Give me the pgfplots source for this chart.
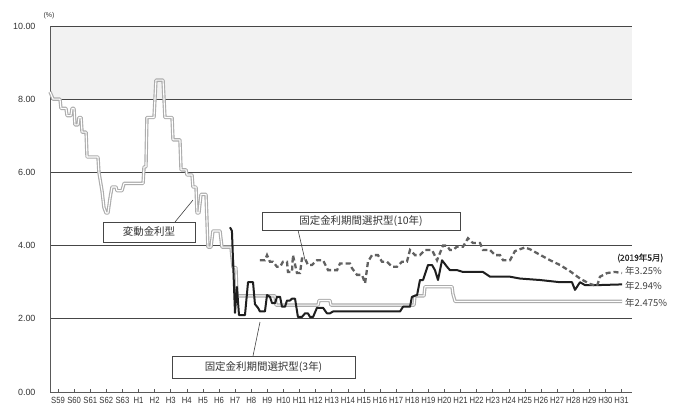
\documentclass[border=0pt]{standalone}
\usepackage{pgfplots}
\pgfplotsset{compat=1.18}
\usepackage{pgfplotstable}
\usepackage{fontspec}
\setmainfont{Liberation Sans}
\newfontfamily\jp{Noto Sans CJK JP}
\newfontfamily\jpb[FakeBold=1.2]{Noto Sans CJK JP}

\pgfplotstableread{
x y
1984.00 8.20
1984.19 8.00
1984.62 8.00
1984.68 7.75
1984.99 7.75
1985.06 7.55
1985.30 7.55
1985.37 7.75
1985.49 7.75
1985.55 7.30
1985.74 7.30
1985.80 7.50
1985.93 7.50
1985.99 7.10
1986.24 7.10
1986.30 6.42
1986.98 6.42
1987.04 6.00
1987.23 5.50
1987.35 5.04
1987.48 4.89
1987.60 4.89
1987.73 5.30
1987.85 5.60
1988.10 5.60
1988.16 5.50
1988.47 5.50
1988.60 5.70
1989.78 5.70
1989.84 6.15
1989.96 6.15
1990.02 7.50
1990.46 7.50
1990.58 8.52
1991.02 8.52
1991.14 7.50
1991.58 7.50
1991.64 6.89
1992.07 6.89
1992.14 6.07
1992.45 6.07
1992.51 5.93
1992.82 5.93
1992.88 5.60
1993.07 5.60
1993.13 4.89
1993.25 4.89
1993.38 5.40
1993.69 5.40
1993.81 3.96
1994.00 3.96
1994.12 4.40
1994.56 4.40
1994.68 3.96
1995.24 3.96
1995.37 3.40
1995.55 3.40
1995.61 2.625
1997.98 2.625
1998.04 2.375
2000.65 2.375
2000.71 2.50
2001.39 2.50
2001.45 2.375
2006.61 2.375
2006.67 2.625
2007.23 2.625
2007.29 2.875
2008.97 2.875
2009.03 2.675
2009.16 2.475
2019.53 2.475
}\variable

\pgfplotstableread{
x y
1995.18 4.50
1995.30 4.40
1995.43 2.87
1995.49 2.16
1995.61 2.87
1995.74 2.10
1996.11 2.10
1996.30 3.00
1996.61 3.00
1996.73 2.40
1996.92 2.30
1997.04 2.20
1997.35 2.20
1997.48 2.65
1997.66 2.60
1997.79 2.43
1997.98 2.43
1998.10 2.60
1998.29 2.60
1998.41 2.33
1998.60 2.33
1998.72 2.50
1998.91 2.50
1999.03 2.55
1999.22 2.55
1999.40 2.05
1999.65 2.05
1999.84 2.15
2000.02 2.15
2000.15 2.05
2000.34 2.05
2000.58 2.30
2000.96 2.30
2001.20 2.15
2001.39 2.15
2001.58 2.20
2005.74 2.20
2005.93 2.33
2006.36 2.33
2006.48 2.60
2006.80 2.65
2006.98 3.06
2007.17 3.06
2007.48 3.47
2007.73 3.47
2007.91 3.33
2008.10 3.06
2008.35 3.60
2008.66 3.42
2008.84 3.33
2009.28 3.33
2009.65 3.28
2010.89 3.28
2011.33 3.15
2012.57 3.15
2013.19 3.10
2014.43 3.06
2015.68 3.00
2016.42 3.00
2016.61 2.79
2016.92 3.00
2017.23 2.92
2017.98 2.92
2019.53 2.94
}\threeyr

\pgfplotstableread{
x y
1997.04 3.60
1997.35 3.60
1997.48 3.74
1997.66 3.56
1997.85 3.56
1998.10 3.42
1998.29 3.42
1998.47 3.56
1998.72 3.56
1998.78 3.28
1999.03 3.28
1999.09 3.74
1999.34 3.25
1999.53 3.25
1999.65 3.65
1999.84 3.65
2000.02 3.47
2000.27 3.47
2000.58 3.60
2000.96 3.60
2001.27 3.33
2001.83 3.33
2002.01 3.51
2002.63 3.51
2002.76 3.38
2003.07 3.20
2003.38 3.20
2003.57 2.97
2003.75 3.56
2004.00 3.74
2004.37 3.74
2004.62 3.56
2004.93 3.56
2005.24 3.42
2005.55 3.42
2005.86 3.56
2006.17 3.56
2006.36 3.88
2006.67 3.74
2006.98 3.74
2007.29 3.88
2007.73 3.88
2008.04 3.60
2008.41 4.00
2008.66 4.00
2008.84 3.88
2009.03 3.88
2009.28 3.97
2009.65 3.97
2009.96 4.20
2010.27 4.07
2010.71 4.07
2010.89 3.88
2011.33 3.88
2011.64 3.74
2011.95 3.74
2012.14 3.60
2012.57 3.60
2012.88 3.85
2013.50 3.95
2013.81 3.90
2014.43 3.75
2015.06 3.60
2015.68 3.47
2016.30 3.30
2016.92 3.10
2017.54 2.95
2017.98 2.90
2018.16 3.15
2018.60 3.25
2019.09 3.28
2019.53 3.25
}\tenyr

\begin{document}
\begin{tikzpicture}[x=1bp,y=1bp]
% light band between 8 and 10
\fill[gray!10] (50,311) rectangle (632,384);
\begin{axis}[
  at={(50bp,18bp)}, anchor=south west,
  scale only axis, width=582bp, height=366bp,
  xmin=1984, xmax=2020.15, ymin=0, ymax=10,
  axis x line=bottom, axis y line=left,
  axis line style={-, draw=gray!70!black, line width=0.8bp},
  xtick={1984.5,1985.5,...,2019.5},
  xticklabels={S59,S60,S61,S62,S63,H1,H2,H3,H4,H5,H6,H7,H8,H9,H10,H11,H12,H13,H14,H15,H16,H17,H18,H19,H20,H21,H22,H23,H24,H25,H26,H27,H28,H29,H30,H31},
  xticklabel style={font=\fontsize{9}{10}\selectfont, xscale=0.86, yshift=-2bp, text=black!80},
  x tick style={draw=gray!70!black, line width=0.6bp},
  tick align=inside, major tick length=3bp,
  ytick={0,2,4,6,8,10},
  yticklabels={0.00,2.00,4.00,6.00,8.00,10.00},
  yticklabel style={font=\fontsize{9}{10}\selectfont, xshift=-11bp, text=black!80},
  y tick style={draw=none},
  ymajorgrids,
  grid style={draw=gray!55!black, line width=0.8bp},
  clip=false,
]
\addplot[gray!65, line width=3.4bp, line join=round] table[x=x,y=y] {\variable};
\addplot[white, line width=1.1bp, line join=round] table[x=x,y=y] {\variable};
\addplot[black!88, line width=2bp, line join=round] table[x=x,y=y] {\threeyr};
\addplot[black!62, line width=2.3bp, dash pattern=on 5bp off 3bp] table[x=x,y=y] {\tenyr};
\end{axis}
% annotations
\node[font=\fontsize{7}{8}\selectfont, text=black!80] at (49,394) {(\%)};
\draw[gray!50!black, line width=0.6bp] (175,188) -- (193,210);
\node[draw=gray!55!black, line width=0.8bp, fill=white, minimum width=92bp, minimum height=20bp, inner sep=0pt, font=\jp\fontsize{10.5}{12}\selectfont, text=black!80] at (149,178) {変動金利型};
\draw[gray!50!black, line width=0.6bp] (298,180) -- (305,150);
\node[draw=gray!55!black, line width=0.8bp, fill=white, minimum width=198bp, minimum height=18bp, inner sep=0pt, font=\jp\fontsize{10.5}{12}\selectfont, text=black!80] at (361,189) {固定金利期間選択型(10年)};
\draw[gray!50!black, line width=0.6bp] (253,54) -- (260,88);
\node[draw=gray!55!black, line width=0.8bp, fill=white, minimum width=183bp, minimum height=22bp, inner sep=0pt, font=\jp\fontsize{10.5}{12}\selectfont, text=black!80] at (263.5,43) {固定金利期間選択型(3年)};
\node[anchor=west, font=\jpb\fontsize{8.5}{10}\selectfont, text=black!85, inner sep=0pt] at (617,152) {(2019年5月)};
\node[anchor=west, font=\jp\fontsize{9.5}{10}\selectfont, text=black!75, inner sep=0pt] at (625,139) {年3.25\%};
\node[anchor=west, font=\jp\fontsize{9.5}{10}\selectfont, text=black!75, inner sep=0pt] at (625,124) {年2.94\%};
\node[anchor=west, font=\jp\fontsize{9.5}{10}\selectfont, text=black!75, inner sep=0pt] at (625,107) {年2.475\%};
\pgfresetboundingbox
\useasboundingbox (0,0) rectangle (686,410);
\end{tikzpicture}
\end{document}
